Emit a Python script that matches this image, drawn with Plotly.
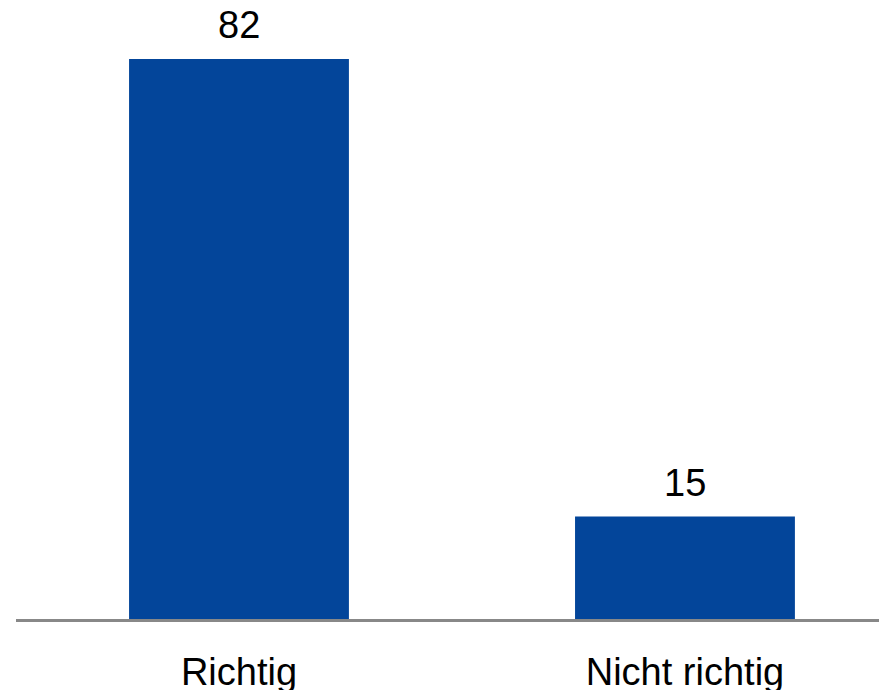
import plotly.graph_objects as go

categories = ["Richtig", "Nicht richtig"]
values = [82, 15]
labels = [str(v) for v in values]

fig = go.Figure(go.Bar(
    x=categories, y=values,
    marker=dict(color="#03459A", line=dict(width=0)),
    width=0.493,
    hoverinfo="x+y",
))

for c, v, t in zip(categories, values, labels):
    fig.add_annotation(
        x=c, y=v, text=t, showarrow=False,
        yanchor="bottom", yshift=11,
        font=dict(family="Liberation Sans, Arial", size=38, color="#000000"),
    )

fig.update_layout(
    width=879, height=682,
    margin=dict(l=8, r=0, t=11, b=71, autoexpand=False),
    plot_bgcolor="white", paper_bgcolor="white",
    showlegend=False,
    font=dict(family="Liberation Sans, Arial", size=38, color="#000000"),
    xaxis=dict(
        range=[-0.5, 1.453],
        automargin=False,
        showline=True, linecolor="#888888", linewidth=3,
        ticks="outside", ticklen=17, tickcolor="rgba(0,0,0,0)",
        showgrid=False, zeroline=False,
        tickfont=dict(size=38),
    ),
    yaxis=dict(
        range=[0, 87.86], visible=False, showgrid=False, zeroline=False,
        automargin=False,
    ),
)

fig.write_html("out.html")
